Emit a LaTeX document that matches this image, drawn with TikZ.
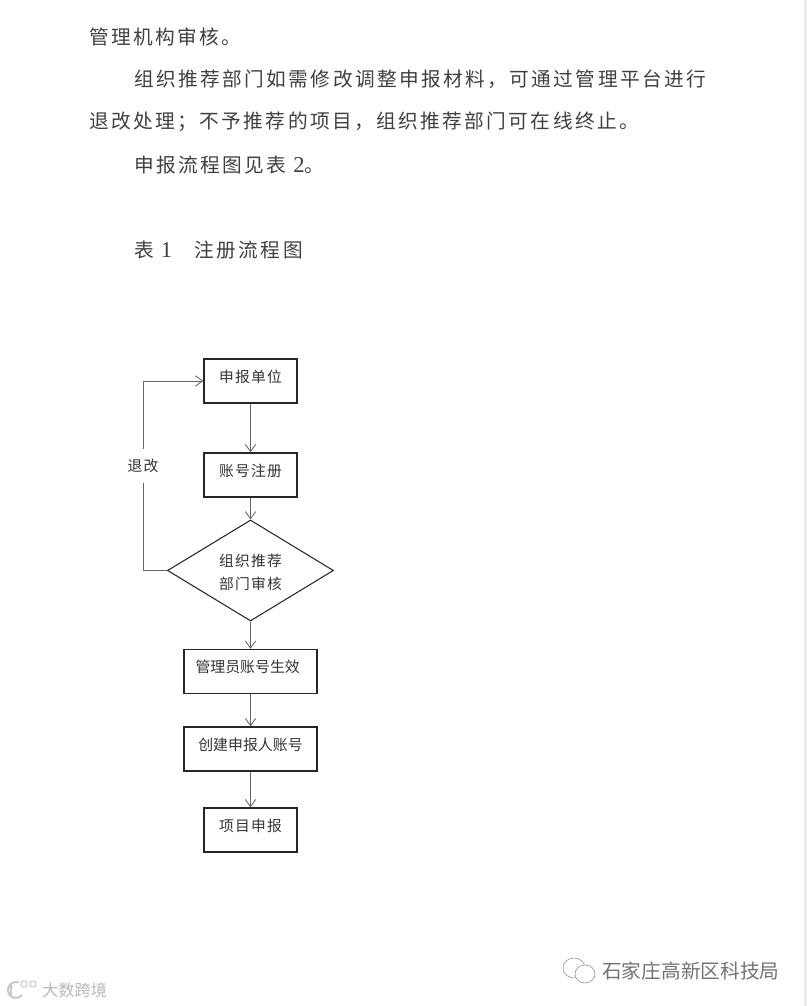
\documentclass[tikz,border=0pt]{standalone}
\usepackage{fontspec}
\setmainfont{Noto Sans CJK SC}
\newfontfamily\bodyfont[LetterSpace=12.2]{Noto Sans CJK SC}
\newfontfamily\boxfont[LetterSpace=8]{Noto Sans CJK SC}
\newfontfamily\digitfont[Scale=1.15]{Liberation Serif}
\usetikzlibrary{arrows.meta, shapes.geometric}
\tikzset{
  bodyline/.style={anchor=west, inner sep=0pt, font=\fontsize{14}{17}\bodyfont, text=black!75},
  flowbox/.style={draw=black!85, line width=0.95pt, inner sep=0pt, minimum width=2.325cm, minimum height=1.1cm, text depth=2.5mm, font=\fontsize{10.5}{16.4}\boxfont, text=black!80},
  widebox/.style={flowbox, minimum width=3.325cm, font=\fontsize{10.6}{16.4}\selectfont},
  flowcheck/.style={draw=black!85, line width=0.75pt, inner sep=0pt, diamond, aspect=1.64, minimum width=4.15cm, minimum height=2.525cm, align=center, font=\fontsize{10.5}{16.4}\boxfont, text=black!80},
  flowline/.style={draw=black!60, line width=0.6pt},
  mark text/.style={anchor=west, inner sep=0pt, text=black!55}
}
\begin{document}
\begin{tikzpicture}[>={Straight Barb[length=1.8mm,width=2.6mm]}]
  \useasboundingbox (0,0) rectangle (20.175,25.15);
  \fill[black!7] (20.1,0) rectangle (20.175,25.15);
  % ---- Text above the chart ----
  \node[bodyline] (lineone) at (2.225,24.225) {管理机构审核。};
  \node[bodyline] (linetwo) at (3.35,23.175) {组织推荐部门如需修改调整申报材料，可通过管理平台进行};
  \node[bodyline] (linethree) at (2.225,22.10) {退改处理；不予推荐的项目，组织推荐部门可在线终止。};
  \node[bodyline] (linefour) at (3.35,21.025) {申报流程图见表 {\digitfont 2}。};
  \node[bodyline] (caption) at (3.35,18.9) {表 {\digitfont 1}\hspace{1.15em}注册流程图};
  % ---- Flow chart ----
  \node[flowbox] (apply) at (6.2625,15.625) {申报单位};
  \node[flowbox] (signup) at (6.2625,13.275) {账号注册};
  \node[flowcheck] (check) at (6.2625,10.8875) {\rule{0pt}{12pt}组织推荐\\部门审核};
  \node[widebox] (admin) at (6.2625,8.3625) {管理员账号生效\kern4pt};
  \node[widebox] (create) at (6.2625,6.425) {创建申报人账号};
  \node[flowbox] (project) at (6.2625,4.4) {项目申报};
  \node[inner sep=0pt, minimum height=0.85cm, font=\fontsize{10.5}{16.4}\boxfont, text=black!80] (back) at (3.575,13.5) {退改};
  \draw[flowline, ->] (apply) -- (signup);
  \draw[flowline, ->] (signup) -- (check);
  \draw[flowline, ->] (check) -- (admin);
  \draw[flowline, ->] (admin) -- (create);
  \draw[flowline, ->] (create) -- (project);
  \draw[flowline] (check.west) -| (back.south);
  \draw[flowline, ->] (back.north) |- (apply.west);
  % ---- Marks at the foot ----
  \draw[black!45, fill=white, line width=0.4pt] (14.35,0.95) ellipse (0.275 and 0.25);
  \draw[black!45, fill=white, line width=0.4pt] (14.625,0.8) ellipse (0.25 and 0.225);
  \node[mark text, font=\fontsize{14}{17}\selectfont] (office) at (15.05,0.875) {石家庄高新区科技局};
  \draw[black!22, line width=1.4pt] (0.468,0.588) arc (70:320:0.2);
  \draw[black!22, line width=1.2pt] (0.28,0.58) -- (0.28,0.25);
  \draw[black!22, line width=0.7pt] (0.6,0.55) circle (0.08) (0.825,0.55) circle (0.08);
  \node[mark text, text=black!28, font=\fontsize{11.5}{14}\selectfont] (brand) at (1.05,0.4) {大数跨境};
\end{tikzpicture}
\end{document}
